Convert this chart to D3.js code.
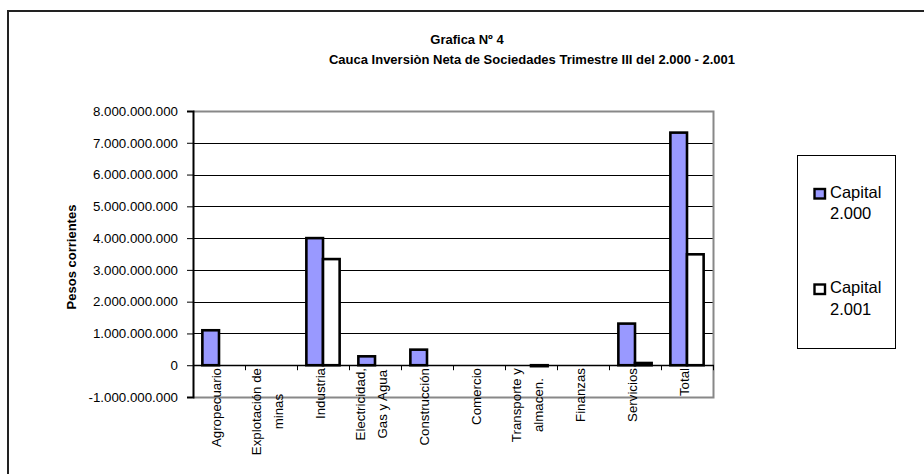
<!DOCTYPE html>
<html>
<head>
<meta charset="utf-8">
<script src="https://cdn.jsdelivr.net/npm/d3@7"></script>
<style>
    body { margin: 0; background: #fff; }
    svg { display: block; font-family: "Liberation Sans", Arial, sans-serif; }
</style>
</head>
<body>
<svg width="924" height="474"></svg>
<script>
// chart data
const categories = ["Agropecuario", "Explotación de\nminas", "Industria", "Electricidad,\nGas y Agua",
    "Construcción", "Comercio", "Transporte y\nalmacen.", "Finanzas", "Servicios", "Total"];
const seriesNames = ["Capital\n2.000", "Capital\n2.001"];
const capital2000 = [1.10e9, 0, 4.00e9, 0.28e9, 0.49e9, 0, 0, 0, 1.31e9, 7.32e9];
const capital2001 = [0, 0, 3.34e9, 0, 0, 0, -0.03e9, 0, 0.07e9, 3.49e9];
const yTicks = [-1e9, 0, 1e9, 2e9, 3e9, 4e9, 5e9, 6e9, 7e9, 8e9];
const seriesColors = ["#9999ff", "#ffffff"];

let svg = d3.select("svg");
let plot = {left: 193, right: 713, top: 111, bottom: 397};

let locale = d3.formatLocale({decimal: ",", thousands: ".", grouping: [3], currency: ["$", ""], minus: "-"});
let fmt = locale.format(",.0f");

// outer frame
svg.append("rect")
    .attr("x", 8).attr("y", 11)
    .attr("width", 1000).attr("height", 1000)
    .attr("fill", "none")
    .attr("stroke", "#222")
    .attr("stroke-width", 2);

// title
svg.append("text")
    .attr("x", 467).attr("y", 44)
    .attr("text-anchor", "middle")
    .style("font-weight", "bold").style("font-size", "13px")
    .text("Grafica Nº 4");
svg.append("text")
    .attr("x", 532).attr("y", 64)
    .attr("text-anchor", "middle")
    .style("font-weight", "bold").style("font-size", "13px")
    .text("Cauca Inversiòn Neta de Sociedades Trimestre III del 2.000 - 2.001");

let y = d3.scaleLinear()
    .domain([-1e9, 8e9])
    .range([plot.bottom, plot.top]);

let x0 = d3.scaleBand()
    .domain(categories)
    .range([plot.left, plot.right])
    .paddingInner(0.36)
    .paddingOuter(0.18);

let x1 = d3.scaleBand()
    .domain([0, 1])
    .range([0, x0.bandwidth()]);

// gridlines
svg.append("g")
    .selectAll("line")
    .data(yTicks.filter(v => v > -1e9 && v < 8e9))
    .enter().append("line")
    .attr("x1", plot.left).attr("x2", plot.right)
    .attr("y1", d => Math.round(y(d)) + 0.5).attr("y2", d => Math.round(y(d)) + 0.5)
    .attr("stroke", "#000").attr("stroke-width", 1);

// plot area border (grey)
svg.append("path")
    .attr("d", "M" + plot.left + "," + (plot.top + 0.5) + "H" + (plot.right + 0.5) + "V" + (plot.bottom + 0.5) + "H" + plot.left)
    .attr("fill", "none")
    .attr("stroke", "#888")
    .attr("stroke-width", 2);

// bars
let rows = categories.map((c, i) => ({cat: c, values: [capital2000[i], capital2001[i]]}));

let groups = svg.append("g")
    .selectAll("g")
    .data(rows)
    .enter().append("g")
    .attr("transform", d => "translate(" + x0(d.cat) + ",0)");

groups.selectAll("rect")
    .data(d => d.values.map((v, k) => ({v: v, k: k})).filter(e => e.v !== 0))
    .enter().append("rect")
    .attr("x", d => x1(d.k))
    .attr("width", x1.bandwidth())
    .attr("y", d => y(Math.max(0, d.v)))
    .attr("height", d => Math.abs(y(d.v) - y(0)))
    .attr("fill", d => seriesColors[d.k])
    .attr("stroke", "#000")
    .attr("stroke-width", 2.6);

// y axis
let yAxis = d3.axisLeft(y)
    .tickValues(yTicks)
    .tickFormat(fmt)
    .tickSize(6)
    .tickPadding(9);

let yAxisG = svg.append("g")
    .attr("transform", "translate(" + plot.left + ",0)")
    .call(yAxis);
yAxisG.select(".domain").attr("stroke", "#000").attr("stroke-width", 2);
yAxisG.selectAll(".tick line").attr("stroke", "#000");
yAxisG.selectAll(".tick text")
    .style("font-family", "Liberation Sans, Arial, sans-serif")
    .style("font-size", "13.3px")
    .attr("fill", "#000");

// zero line with category ticks
let boundaries = categories.map((c, i) => plot.left + x0.step() * (i + 1));
svg.append("line")
    .attr("x1", plot.left).attr("x2", plot.right + 1)
    .attr("y1", Math.round(y(0)) + 0.5).attr("y2", Math.round(y(0)) + 0.5)
    .attr("stroke", "#000").attr("stroke-width", 1.5);
svg.append("g")
    .selectAll("line")
    .data(boundaries)
    .enter().append("line")
    .attr("x1", d => Math.round(d) + 0.5).attr("x2", d => Math.round(d) + 0.5)
    .attr("y1", y(0)).attr("y2", y(0) + 5)
    .attr("stroke", "#000").attr("stroke-width", 1);

// category labels, rotated, lines centred on the longest line
let labelG = svg.append("g")
    .selectAll("g")
    .data(categories)
    .enter().append("g");

labelG.each(function(c) {
    let lines = c.split("\n");
    let cx = x0(c) + x0.bandwidth() / 2;
    let g = d3.select(this);
    let texts = g.selectAll("text")
        .data(lines)
        .enter().append("text")
        .style("font-size", "13.3px")
        .attr("text-anchor", "middle")
        .attr("dy", "0.35em")
        .text(d => d);
    let maxW = 0;
    texts.each(function() { maxW = Math.max(maxW, this.getComputedTextLength()); });
    let top = 368;
    texts.attr("transform", (d, i) => {
        let lx = lines.length > 1 ? cx - 4 + (i - (lines.length - 1) / 2) * 22 : cx - 3;
        return "translate(" + lx + "," + (top + maxW / 2) + ") rotate(-90)";
    });
});

// y axis title
svg.append("text")
    .attr("transform", "translate(71,257) rotate(-90)")
    .attr("text-anchor", "middle")
    .attr("dy", "0.35em")
    .style("font-weight", "bold").style("font-size", "13px")
    .text("Pesos corrientes");

// legend
let legend = svg.append("g");
legend.append("rect")
    .attr("x", 797.5).attr("y", 155.5)
    .attr("width", 98).attr("height", 193)
    .attr("fill", "#fff")
    .attr("stroke", "#000").attr("stroke-width", 1);

let entries = legend.selectAll("g.entry")
    .data(seriesNames)
    .enter().append("g")
    .attr("class", "entry")
    .attr("transform", (d, i) => "translate(0," + (i * 95.5) + ")");

entries.append("rect")
    .attr("x", 814.5).attr("y", 189)
    .attr("width", 10.5).attr("height", 9.5)
    .attr("fill", (d, i) => seriesColors[i])
    .attr("stroke", "#000").attr("stroke-width", 2.4);

entries.append("text")
    .style("font-size", "16.5px")
    .selectAll("tspan")
    .data(d => d.split("\n"))
    .enter().append("tspan")
    .attr("x", 830)
    .attr("y", (d, i) => 197.5 + i * 21.7)
    .text(d => d);
</script>
</body>
</html>
